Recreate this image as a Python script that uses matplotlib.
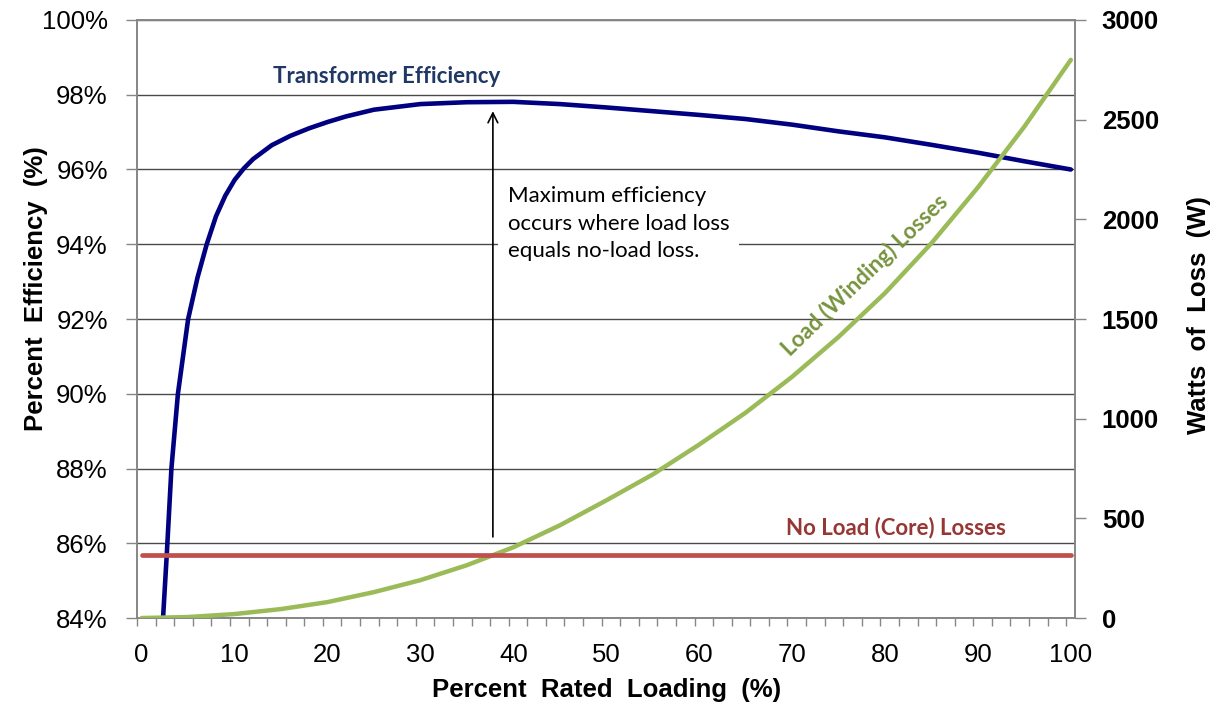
import matplotlib.pyplot as plt
import numpy as np
from matplotlib.ticker import FixedLocator, FuncFormatter

# Datos
carga_eficiencia = [2.3, 2.7, 3.2, 3.9, 5, 6, 7, 8, 9, 10, 11, 12, 14, 16, 18, 20,
                    22, 25, 30, 35, 40, 45, 50, 55, 60, 65, 70, 75, 80, 85, 90, 95, 100]
eficiencia = [84.0, 85.7, 88.0, 90.0, 92.0, 93.1, 94.0, 94.75, 95.3, 95.72, 96.03, 96.28,
              96.65, 96.9, 97.1, 97.27, 97.42, 97.6, 97.75, 97.8, 97.81, 97.75, 97.66,
              97.56, 97.46, 97.35, 97.2, 97.02, 96.86, 96.66, 96.45, 96.22, 96.0]

carga_perdidas = [0, 5, 10, 15, 20, 25, 30, 35, 40, 45, 50, 55, 60, 65, 70, 75, 80,
                  85, 90, 95, 100]
perdidas_carga = [0, 5, 20, 45, 80, 130, 190, 265, 355, 465, 590, 720, 870, 1030, 1210,
                  1410, 1630, 1880, 2160, 2465, 2800]

carga_vacio = [0, 100]
perdidas_vacio = [315, 315]

ticks_izq = [84, 86, 88, 90, 92, 94, 96, 98, 100]
ticks_der = [0, 500, 1000, 1500, 2000, 2500, 3000]
ticks_x = [0, 10, 20, 30, 40, 50, 60, 70, 80, 90, 100]

AZUL = "#000080"
VERDE = "#9BBB59"
ROJO = "#C0504D"
GRIS = "#868686"

fig = plt.figure(figsize=(12.17, 7.06), dpi=100)
ax = fig.add_axes([0.1126, 0.1246, 0.7711, 0.8471])
ax2 = ax.twinx()

# rejilla horizontal
for v in ticks_izq:
    ax.axhline(v, color="#4a4a4a", linewidth=1.0, zorder=0)

ax.plot(carga_eficiencia, eficiencia, color=AZUL, linewidth=3.3,
        solid_capstyle="round", solid_joinstyle="round", zorder=3)
ax2.plot(carga_perdidas, perdidas_carga, color=VERDE, linewidth=3.2,
         solid_capstyle="round", solid_joinstyle="round", zorder=3)
ax2.plot(carga_vacio, perdidas_vacio, color=ROJO, linewidth=3.4,
         solid_capstyle="round", zorder=3)

ax.set_xlim(-0.5, 100.5)
ax.set_ylim(84, 100)
ax2.set_ylim(0, 3000)

fuente_ejes = "Liberation Sans"

ax.xaxis.set_major_locator(FixedLocator(ticks_x))
ax.xaxis.set_minor_locator(FixedLocator(np.arange(-0.5, 100.5, 2)))
ax.tick_params(axis="x", which="major", length=0, pad=18, labelsize=18.5)
ax.tick_params(axis="x", which="minor", length=6, width=1, color=GRIS, direction="out")

ax.yaxis.set_major_locator(FixedLocator(ticks_izq))
ax.yaxis.set_major_formatter(FuncFormatter(lambda v, p: f"{v:.0f}%"))
ax.tick_params(axis="y", length=8, width=1, color=GRIS, pad=13, labelsize=18.5)

ax2.yaxis.set_major_locator(FixedLocator(ticks_der))
ax2.tick_params(axis="y", length=8, width=1, color=GRIS, pad=11, labelsize=18.5)

for etiqueta in ax.get_xticklabels() + ax.get_yticklabels():
    etiqueta.set_fontfamily(fuente_ejes)
for etiqueta in ax2.get_yticklabels():
    etiqueta.set_fontfamily(fuente_ejes)
    etiqueta.set_fontweight("bold")

for eje in (ax, ax2):
    for lado in ("left", "right", "bottom", "top"):
        eje.spines[lado].set_color(GRIS)
        eje.spines[lado].set_linewidth(1.2)

ax.set_xlabel("Percent  Rated  Loading  (%)", fontsize=18.5, fontweight="bold",
              fontfamily=fuente_ejes)
ax.xaxis.set_label_coords(0.5, -0.1)
ax.set_ylabel("Percent  Efficiency  (%)", fontsize=18.5, fontweight="bold",
              fontfamily=fuente_ejes)
ax.yaxis.set_label_coords(-0.095, 0.55)
ax2.set_ylabel("Watts  of  Loss  (W)", fontsize=18.5, fontweight="bold",
               fontfamily=fuente_ejes)
ax2.yaxis.set_label_coords(1.119, 0.507)

# rotulos de las series
fuente_texto = "Lato"
ax.text(14.1, 98.5, "Transformer Efficiency", color="#1F3864", fontsize=16,
        fontweight="bold", fontfamily=fuente_texto, va="center", ha="left")
ax2.text(69.3, 455, "No Load (Core) Losses", color="#953735", fontsize=16,
         fontweight="bold", fontfamily=fuente_texto, va="center", ha="left")
ax2.text(77.8, 1720, "Load (Winding) Losses", color="#77933C", fontsize=16,
         fontweight="bold", fontfamily=fuente_texto, va="center", ha="center",
         rotation=44, rotation_mode="anchor")

# nota y flecha del maximo
ax.text(39.4, 95.55, "Maximum efficiency\noccurs where load loss\nequals no-load loss.",
        fontsize=16, fontfamily=fuente_texto, color="black", va="top", ha="left",
        linespacing=1.45, zorder=4,
        bbox=dict(boxstyle="square,pad=0.45", facecolor="white", edgecolor="none"))
ax.annotate("", xy=(37.8, 97.56), xytext=(37.8, 86.17),
            arrowprops=dict(arrowstyle="->,head_length=0.7,head_width=0.35",
                            color="black", linewidth=1.2, shrinkA=0, shrinkB=0),
            zorder=5)

fig.savefig("out.png", dpi=100)
